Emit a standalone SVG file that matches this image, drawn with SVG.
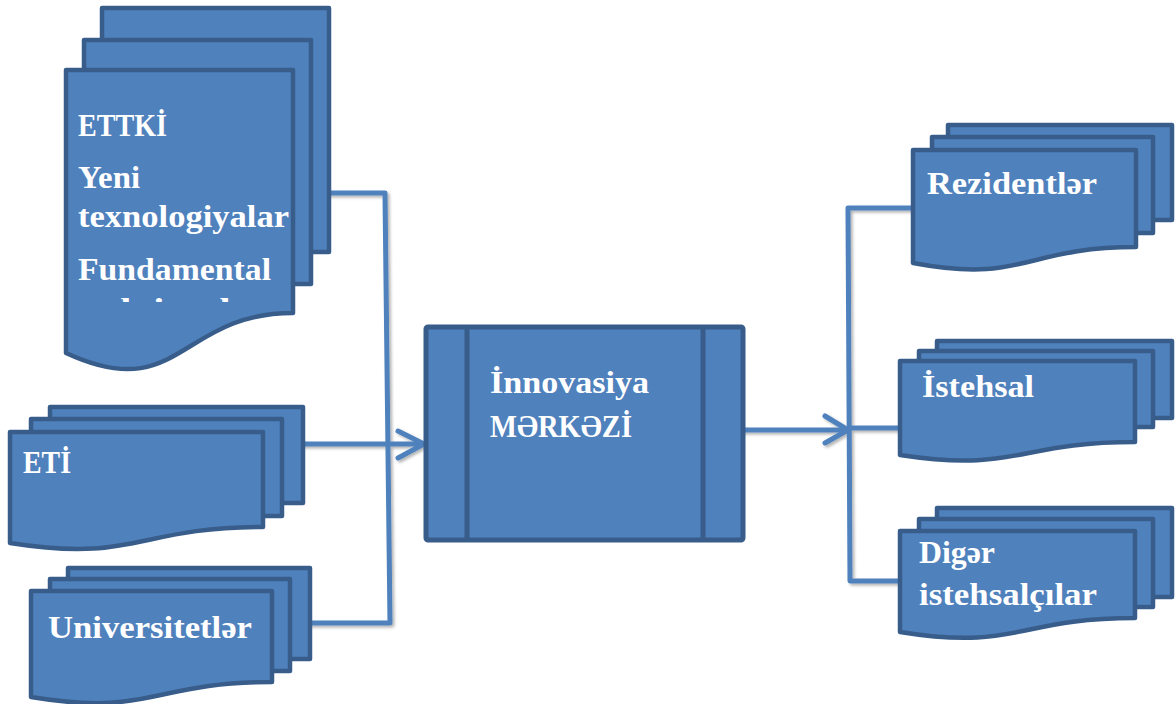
<svg xmlns="http://www.w3.org/2000/svg" width="1175" height="704" viewBox="0 0 1175 704">
<style>
.sh{fill:#4f81bd;stroke:#385d8a;stroke-width:4.5;stroke-linejoin:round}
.t{font-family:"Liberation Serif","DejaVu Serif",serif;font-weight:bold;font-size:32px;fill:#ffffff}
.c{fill:none;stroke:#4f81bd;stroke-width:5;stroke-linejoin:round;stroke-linecap:round}
</style>
<defs>
<filter id="ds" x="-10%" y="-10%" width="130%" height="130%">
<feDropShadow dx="2" dy="2" stdDeviation="1.5" flood-color="#000" flood-opacity="0.3"/>
</filter>
<clipPath id="cl"><rect x="60" y="60" width="240" height="242"/></clipPath>
</defs>
<rect width="1175" height="704" fill="#ffffff"/>

<g id="connectors" filter="url(#ds)">
<path class="c" d="M329,193 H385 L390,623 H310"/>
<path class="c" d="M303,444 H423"/>
<path class="c" d="M398,431 L424,444 L398,458"/>
<path class="c" d="M743,430 H848"/>
<path class="c" d="M825,416 L848,430 L825,443"/>
<path class="c" d="M913,208 H848 L850,581 H900"/>
<path class="c" d="M850,428 H900"/>
</g>

<g id="ettki">
<rect class="sh" x="102" y="8" width="227" height="244"/>
<rect class="sh" x="84" y="40" width="227" height="244"/>
<path class="sh" d="M66,70 H293 V313 C179.5,313 179.5,405.6 66,353 Z"/>
<text class="t" x="78" y="136" textLength="89" lengthAdjust="spacingAndGlyphs">ETTKİ</text>
<text class="t" x="78" y="188" textLength="62" lengthAdjust="spacingAndGlyphs">Yeni</text>
<text class="t" x="78" y="227" textLength="211" lengthAdjust="spacingAndGlyphs">texnologiyalar</text>
<text class="t" x="78" y="280" textLength="193" lengthAdjust="spacingAndGlyphs">Fundamental</text>
<text class="t" x="78" y="320" textLength="190" lengthAdjust="spacingAndGlyphs" clip-path="url(#cl)">tədqiqatlar</text>
</g>

<g id="eti">
<rect class="sh" x="50" y="407" width="253" height="96"/>
<rect class="sh" x="31" y="419" width="251" height="97"/>
<path class="sh" d="M10,432 H263 V527 C136.5,527 136.5,563 10,543 Z"/>
<text class="t" x="23" y="473" textLength="48" lengthAdjust="spacingAndGlyphs">ETİ</text>
</g>

<g id="universitetler">
<rect class="sh" x="68" y="568" width="242" height="91"/>
<rect class="sh" x="50" y="579" width="240" height="92"/>
<path class="sh" d="M31,591 H272 V682 C151.5,682 151.5,717 31,697 Z"/>
<text class="t" x="48" y="638" textLength="204" lengthAdjust="spacingAndGlyphs">Universitetlər</text>
</g>

<g id="merkez">
<rect class="sh" x="426" y="327" width="317" height="213" rx="2" style="stroke-width:5"/>
<line x1="467" y1="327" x2="467" y2="540" stroke="#385d8a" stroke-width="5"/>
<line x1="703" y1="327" x2="703" y2="540" stroke="#385d8a" stroke-width="5"/>
<text class="t" x="490" y="393" textLength="159" lengthAdjust="spacingAndGlyphs">İnnovasiya</text>
<text class="t" x="490" y="437" textLength="142" lengthAdjust="spacingAndGlyphs">MƏRKƏZİ</text>
</g>

<g id="rezidentler">
<rect class="sh" x="948" y="125" width="224" height="95"/>
<rect class="sh" x="932" y="137" width="221" height="96"/>
<path class="sh" d="M913,150 H1136 V247 C1024.5,247 1024.5,284 913,263 Z"/>
<text class="t" x="927" y="194" textLength="170" lengthAdjust="spacingAndGlyphs">Rezidentlər</text>
</g>

<g id="istehsal">
<rect class="sh" x="937" y="341" width="235" height="77"/>
<rect class="sh" x="919" y="351" width="234" height="76"/>
<path class="sh" d="M900,361 H1135 V442 C1017.5,442 1017.5,473 900,455 Z"/>
<text class="t" x="922" y="397" textLength="112" lengthAdjust="spacingAndGlyphs">İstehsal</text>
</g>

<g id="diger">
<rect class="sh" x="937" y="508" width="235" height="89"/>
<rect class="sh" x="919" y="519" width="234" height="88"/>
<path class="sh" d="M900,531 H1135 V618 C1017.5,618 1017.5,651 900,632 Z"/>
<text class="t" x="919" y="563" textLength="76" lengthAdjust="spacingAndGlyphs">Digər</text>
<text class="t" x="919" y="605" textLength="178" lengthAdjust="spacingAndGlyphs">istehsalçılar</text>
</g>
</svg>
